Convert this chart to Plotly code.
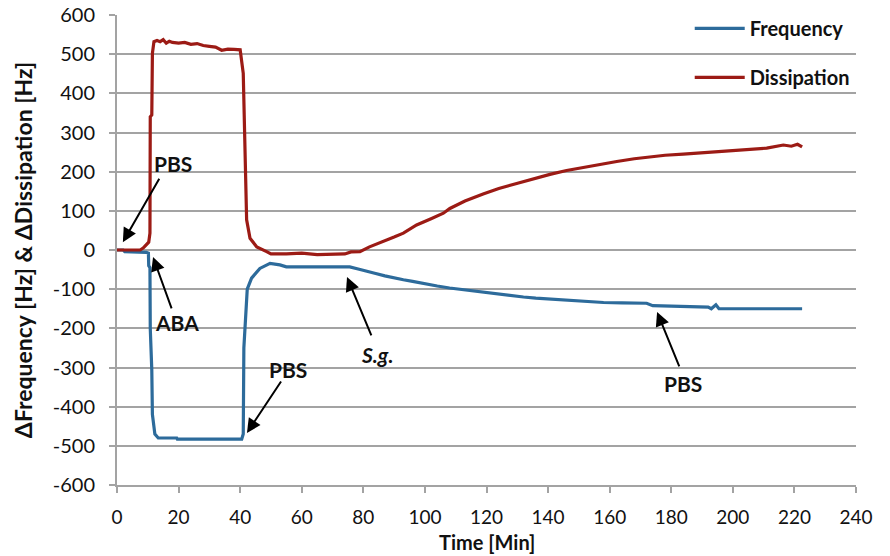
import plotly.graph_objects as go

# ---------------- data ----------------
freq_t = [0, 2, 2.5, 9.1, 9.5, 10.2, 10.3, 10.7, 10.8, 11.3, 11.5, 12.3, 13.4, 19.4, 19.6, 40.5,
          41.0, 41.2, 42.1, 42.3, 43.7, 46.4, 49.7, 52.9, 55, 75.6, 78, 81, 84, 87, 90, 93, 96,
          100, 104, 108, 112, 116, 120, 124, 128, 132, 136, 140, 146, 152, 158, 164, 170, 172,
          174, 180, 186, 192, 193, 194.5, 195.5, 200, 210, 222.5]
freq_v = [0, 0, -4, -4, -6, -8, -40, -45, -200, -306, -420, -470, -480, -480, -483, -483,
          -470, -250, -120, -100, -72, -47, -34, -38, -43, -43, -48, -55, -60, -66, -72, -76, -80,
          -87, -92, -97, -101, -106, -110, -114, -117, -120, -123, -125, -129, -131, -134, -135, -136, -136,
          -142, -143, -144, -146, -150, -140, -150, -150, -150, -150]

diss_t = [0, 7.5, 8.5, 9.6, 10.3, 10.7, 10.8, 11.3, 11.5, 12.0, 13, 14, 15, 16, 17, 18, 20, 22,
          24, 26, 28, 30, 32, 34, 36, 38, 40, 41.0, 41.6, 42.1, 43.2, 45.4, 48.6, 50, 55, 60, 65,
          70, 74, 76, 78.9, 82, 86.5, 90, 93, 97.3, 102, 106, 108.1, 113, 118.9, 124, 129.8, 135,
          140.6, 146, 151.4, 157, 162.3, 168, 173.1, 178, 183.9, 189, 194.8, 200, 205.6, 211,
          216.4, 219, 221, 222.5]
diss_v = [0, 0, 5, 13, 20, 43, 340, 345, 502, 532, 535, 532, 537, 528, 533, 530, 528, 530,
          525, 527, 522, 520, 518, 510, 513, 512, 511, 451, 222, 77, 30, 8, -4, -10, -10, -8, -12,
          -10, -10, -5, -4, 8, 21, 33, 43, 64, 80, 94, 106, 125, 143, 157, 170, 182,
          193, 203, 211, 219, 226, 233, 238, 242, 245, 248, 251, 254, 257, 260,
          268, 265, 270, 263]

x_ticks = list(range(0, 241, 20))
y_ticks = list(range(-600, 601, 100))
y_tick_text = [str(v) for v in y_ticks]

BLUE = "#2D6B9B"
RED = "#9C1B15"
GRID = "#A3A3A3"
FONT = "Lato"

fig = go.Figure()
fig.add_trace(go.Scatter(x=freq_t, y=freq_v, mode="lines", name="Frequency",
                         legendgroup="f", line=dict(color=BLUE, width=3.2)))
fig.add_trace(go.Scatter(x=diss_t, y=diss_v, mode="lines", name="Dissipation",
                         legendgroup="d", line=dict(color=RED, width=3.2)))

# annotations: (text, text_x, text_y, tip_x, tip_y, tail_x, tail_y, italic)
labels = [
    ("PBS", 18.2, 222, 1.9, 20, 14.0, 186, False),
    ("ABA", 19.5, -186, 11.7, -18, 17.9, -153, False),
    ("PBS", 55.5, -306, 42.2, -467, 53.6, -332, False),
    ("S.g.", 84.4, -268, 74.7, -69, 82.8, -222, True),
    ("PBS", 183.8, -340, 175.4, -158, 182.8, -301, False),
]
for txt, tx, ty, hx, hy, ax, ay, it in labels:
    fig.add_annotation(x=hx, y=hy, ax=ax, ay=ay, axref="x", ayref="y", text="",
                       showarrow=True, arrowhead=2, arrowsize=1.4, arrowwidth=2,
                       arrowcolor="black")
    fig.add_annotation(x=tx, y=ty, text=(f"<b><i>{txt}</i></b>" if it else f"<b>{txt}</b>"),
                       showarrow=False, font=dict(family=FONT, size=21, color="#111"))

# x-axis title placed below tick labels
fig.add_annotation(xref="paper", yref="paper", x=0.5, y=-0.121, yanchor="middle",
                   text="<b>Time [Min]</b>", showarrow=False,
                   font=dict(family=FONT, size=20, color="#111"))

fig.update_layout(
    width=890, height=556,
    margin=dict(l=117, r=34, t=15, b=71, autoexpand=False),
    paper_bgcolor="white", plot_bgcolor="white",
    font=dict(family=FONT, size=19, color="#111"),
    showlegend=True,
    legend=dict(x=0.775, y=1.013, xanchor="left", yanchor="top",
                bgcolor="rgba(0,0,0,0)", tracegroupgap=20, itemwidth=50,
                font=dict(family=FONT, size=20, color="#111", weight="bold"),
                traceorder="grouped"),
)
fig.update_xaxes(range=[0, 240], tickvals=x_ticks, showgrid=False, zeroline=False,
                 automargin=False,
                 showline=True, linecolor=GRID, linewidth=2, ticks="outside", ticklen=6,
                 tickcolor=GRID, tickwidth=2, ticklabelstandoff=8,
                 tickfont=dict(family=FONT, size=19, color="#111"))
fig.update_yaxes(range=[-600, 600], tickvals=y_ticks, ticktext=y_tick_text, showgrid=True,
                 gridcolor=GRID, automargin=False,
                 gridwidth=1.5, zeroline=False, showline=True, linecolor=GRID, linewidth=2,
                 ticks="outside", ticklen=6, tickcolor=GRID, tickwidth=2, ticklabelstandoff=10,
                 tickfont=dict(family=FONT, size=20, color="#111"),
                 title=dict(text="<b>ΔFrequency [Hz] &amp; ΔDissipation [Hz]</b>", standoff=14,
                            font=dict(family=FONT, size=23, color="#111")))

fig.write_html("out.html")
